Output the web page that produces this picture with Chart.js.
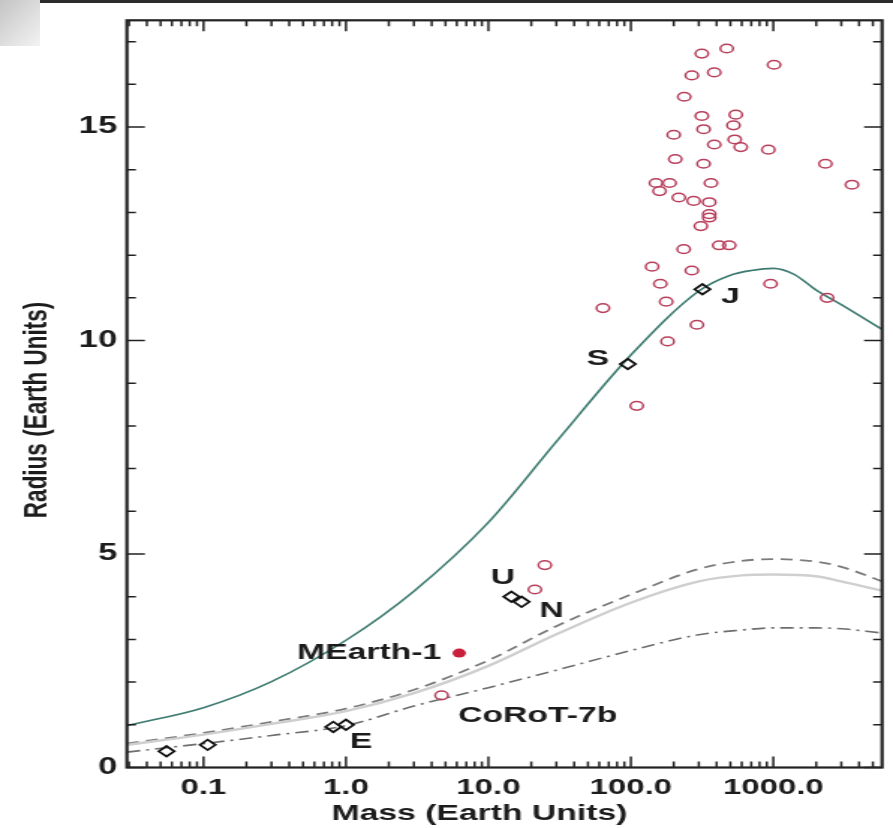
<!DOCTYPE html>
<html>
<head>
<meta charset="utf-8">
<script src="https://cdn.jsdelivr.net/npm/chart.js@4/dist/chart.umd.min.js"></script>
<style>
  html, body { margin: 0; padding: 0; background: #fff; overflow: hidden; width: 893px; height: 828px; }
  /* the source figure is stretched sideways, so the whole canvas is too */
  #wrap { position: absolute; left: 0; top: 0; width: 596px; height: 828px; transform: scaleX(1.4983); transform-origin: 0 0; }
  #chart { display: block; }
  #corner { position: absolute; left: 0; top: 0; width: 40px; height: 46px; background: linear-gradient(135deg, #c4c4c4, #f3f3f3); }
  #topline { position: absolute; left: 40px; top: 0; width: 853px; height: 3px; background: #2b2b2b; }
</style>
</head>
<body>
<div id="wrap"><canvas id="chart" width="596" height="828"></canvas></div>
<div id="corner"></div>
<div id="topline"></div>
<script>
// --- axes ---
const massTicks = [0.1, 1, 10, 100, 1000];
const massTickLabels = ["0.1", "1.0", "10.0", "100.0", "1000.0"];
const radiusTicks = [0, 5, 10, 15];
const radiusTickLabels = ["0", "5", "10", "15"];

// --- H/He curve (solid) ---
const hheMass = [0.029, 0.1, 0.3, 1, 3, 10, 30, 100, 300, 500, 700, 1000, 1400, 2000, 3000, 5800];
const hheRadius = [0.98, 1.40, 2.01, 2.98, 4.13, 5.74, 7.63, 9.66, 11.16, 11.53, 11.64, 11.69, 11.55, 11.18, 10.84, 10.26];

// --- other model curves ---
const modelMass = [0.029, 0.1, 0.3, 1, 3, 10, 30, 100, 300, 600, 1000, 2000, 3000, 5800];
const waterRadius = [0.56, 0.81, 1.07, 1.38, 1.82, 2.51, 3.31, 4.05, 4.65, 4.84, 4.88, 4.82, 4.70, 4.36];
const mixRadius = [0.53, 0.77, 1.02, 1.32, 1.74, 2.38, 3.12, 3.86, 4.36, 4.50, 4.52, 4.48, 4.36, 4.14];
const rockRadius = [0.36, 0.56, 0.75, 0.98, 1.44, 1.87, 2.28, 2.74, 3.11, 3.22, 3.27, 3.27, 3.25, 3.15];

// --- known exoplanets ---
const exoMass = [315, 471, 1012, 268, 385, 237, 315, 545, 324, 525, 200, 385, 536, 591, 923,
  205, 324, 2322, 150, 187, 365, 3566, 159, 217, 276, 355, 355, 355, 310, 235, 417, 490,
  141, 268, 161, 957, 2387, 177, 63.7, 291, 181, 110, 24.9, 21.2, 4.69];
const exoRadius = [16.72, 16.84, 16.46, 16.21, 16.28, 15.71, 15.26, 15.29, 14.95, 15.04, 14.82, 14.59, 14.71, 14.53, 14.47,
  14.25, 14.14, 14.14, 13.69, 13.69, 13.69, 13.65, 13.50, 13.35, 13.27, 13.24, 12.96, 12.88, 12.68, 12.14, 12.23, 12.23,
  11.73, 11.64, 11.33, 11.33, 11.00, 10.91, 10.76, 10.37, 9.98, 8.47, 4.74, 4.17, 1.69];

// --- MEarth-1 ---
const mearthMass = [6.24];
const mearthRadius = [2.68];

// --- solar system planets ---
const planetMass = [0.055, 0.107, 0.815, 1.0, 14.5, 17.1, 95.2, 317.8];
const planetRadius = [0.38, 0.53, 0.95, 1.0, 4.0, 3.88, 9.45, 11.2];

// --- point labels ---
const labelText = ["J", "S", "U", "N", "E", "MEarth-1", "CoRoT-7b"];
const labelMass = [317.8, 95.2, 14.5, 17.1, 1.0, 6.24, 4.69];
const labelRadius = [11.2, 9.45, 4.0, 3.88, 1.0, 2.68, 1.69];
const labelPlace = [
  { dx: 18.7, dy: 8, align: "center" },
  { dx: -20, dy: -5, align: "center" },
  { dx: -5.7, dy: -19, align: "center" },
  { dx: 20, dy: 9, align: "center" },
  { dx: 10, dy: 17, align: "center" },
  { dx: -12, dy: 0, align: "right" },
  { dx: 11, dy: 20, align: "left" },
];

const FONT = "'Liberation Sans', Arial, Helvetica, sans-serif";
const INK = "#1c1c1c";

const pts = (xs, ys) => xs.map((m, i) => ({ x: m, y: ys[i] }));

// Cadre + petits traits vers l'intérieur + textes
const frameAndText = {
  id: "frameAndText",
  afterDatasetsDraw(chart) {
    const { ctx, chartArea: a, scales: { x, y } } = chart;
    ctx.save();
    ctx.strokeStyle = "#222";
    ctx.lineWidth = 1.5;
    ctx.beginPath();
    for (let e = -2; e <= 3; e++) {
      for (let k = 1; k <= 9; k++) {
        const v = k * Math.pow(10, e);
        if (v < x.min || v > x.max) continue;
        const px = x.getPixelForValue(v);
        const len = k === 1 ? 11 : 6;
        ctx.moveTo(px, a.bottom); ctx.lineTo(px, a.bottom - len);
        ctx.moveTo(px, a.top); ctx.lineTo(px, a.top + len);
      }
    }
    for (let v = 0; v <= 17; v++) {
      const py = y.getPixelForValue(v);
      const len = v % 5 === 0 ? 12 : 6;
      ctx.moveTo(a.left, py); ctx.lineTo(a.left + len, py);
      ctx.moveTo(a.right, py); ctx.lineTo(a.right - len, py);
    }
    ctx.stroke();
    ctx.lineWidth = 2.2;
    ctx.strokeRect(a.left, a.top, a.right - a.left, a.bottom - a.top);

    // labels next to points
    ctx.fillStyle = INK;
    ctx.font = `bold 22.5px ${FONT}`;
    ctx.textBaseline = "middle";
    labelText.forEach((t, i) => {
      const p = labelPlace[i];
      ctx.textAlign = p.align;
      ctx.fillText(t, x.getPixelForValue(labelMass[i]) + p.dx, y.getPixelForValue(labelRadius[i]) + p.dy);
    });

    // axis titles
    ctx.textAlign = "center";
    ctx.fillText("Mass (Earth Units)", 320, 814);
    ctx.translate(25, 410);
    ctx.rotate(-Math.PI / 2);
    ctx.fillText("Radius (Earth Units)", 0, 0);
    ctx.restore();
  },
};

const curve = (xs, ys, color, width, dash) => ({
  type: "line", data: pts(xs, ys), borderColor: color, borderWidth: width, borderDash: dash || [],
  pointRadius: 0, cubicInterpolationMode: "monotone", order: 3,
});

new Chart(document.getElementById("chart"), {
  type: "scatter",
  data: {
    datasets: [
      curve(modelMass, rockRadius, "#6e6e6e", 1.6, [9, 4, 2, 4]),
      curve(modelMass, mixRadius, "#cfcfcf", 2.4),
      curve(modelMass, waterRadius, "#7c7c7c", 1.8, [8, 5]),
      curve(hheMass, hheRadius, "#3d7b70", 1.6),
      { data: pts(exoMass, exoRadius), pointStyle: "circle", pointRadius: 4.3, borderWidth: 1.5,
        borderColor: "#b8405c", backgroundColor: "rgba(0,0,0,0)", order: 1 },
      { data: pts(mearthMass, mearthRadius), pointStyle: "circle", pointRadius: 4.5, borderWidth: 0,
        backgroundColor: "#c8203c", order: 1 },
      { data: pts(planetMass, planetRadius), pointStyle: "rectRot", pointRadius: 5.2, borderWidth: 1.8,
        borderColor: "#111", backgroundColor: "rgba(255,255,255,0)", order: 1 },
    ],
  },
  options: {
    responsive: false,
    animation: false,
    layout: { padding: { top: 7, right: 7.3, bottom: 0, left: 0 } },
    plugins: { legend: { display: false }, tooltip: { enabled: false } },
    scales: {
      x: {
        type: "logarithmic",
        min: 0.029,
        max: 5800,
        grid: { display: false, drawTicks: false },
        border: { display: false },
        afterBuildTicks: (s) => { s.ticks = massTicks.map((v) => ({ value: v })); },
        afterFit: (s) => { s.height = 60.5; },
        ticks: {
          autoSkip: false,
          maxRotation: 0,
          padding: 7,
          color: INK,
          font: { family: FONT, size: 22, weight: "bold" },
          callback: (v, i) => massTickLabels[i],
        },
      },
      y: {
        type: "linear",
        min: 0,
        max: 17.5,
        grid: { display: false, drawTicks: false },
        border: { display: false },
        afterBuildTicks: (s) => { s.ticks = radiusTicks.map((v) => ({ value: v })); },
        afterFit: (s) => { s.width = 84.7; },
        ticks: {
          padding: 6.5,
          color: INK,
          font: { family: FONT, size: 23, weight: "bold" },
          callback: (v, i) => radiusTickLabels[i],
        },
      },
    },
  },
  plugins: [frameAndText],
});
</script>
</body>
</html>
